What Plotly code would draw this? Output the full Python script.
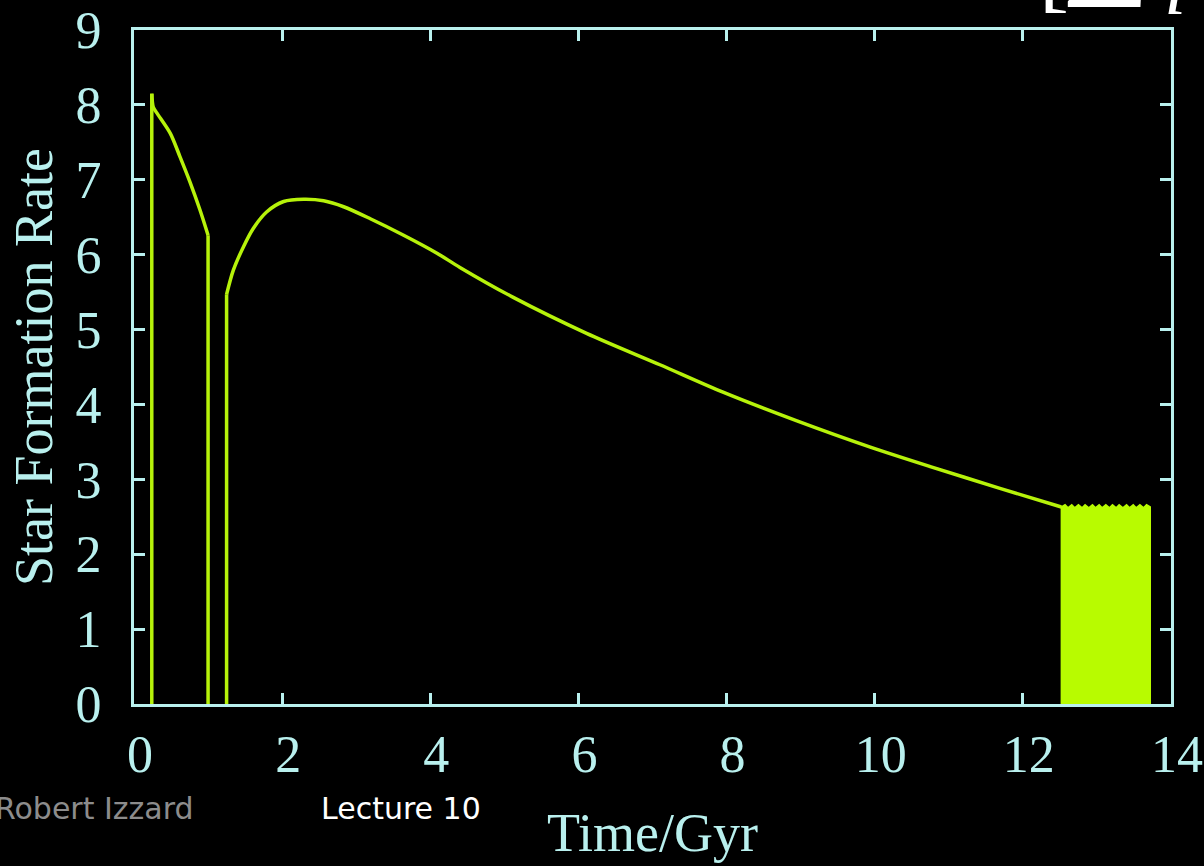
import plotly.graph_objects as go

# Star formation history (time in Gyr, rate in solar masses per year)
# Early episode, ended by a sudden quench
early_t = [0.24, 0.26, 0.31, 0.49, 0.62, 0.76, 0.89, 1.00]
early_sfr = [8.15, 7.97, 7.89, 7.62, 7.31, 6.96, 6.60, 6.26]

# Main episode after re-ignition
main_t = [1.25, 1.34, 1.48, 1.61, 1.79, 2.02, 2.29, 2.56, 2.83, 3.19,
          3.64, 4.09, 4.40, 5.12, 6.11, 7.10, 7.96, 8.95, 9.94, 10.75,
          11.69, 12.52]
main_sfr = [5.47, 5.79, 6.11, 6.35, 6.57, 6.71, 6.74, 6.72, 6.64, 6.48,
            6.26, 6.02, 5.83, 5.43, 4.95, 4.53, 4.16, 3.78, 3.43, 3.17,
            2.88, 2.63]

# Late rapidly oscillating phase: upper envelope of the oscillation
burst_t = [12.52, 12.52, 12.57, 12.61, 12.66, 12.70, 12.75, 12.80, 12.84, 12.89,
           12.94, 12.98, 13.03, 13.07, 13.12, 13.17, 13.21, 13.26, 13.30, 13.35,
           13.40, 13.44, 13.49, 13.53, 13.58, 13.63, 13.67, 13.72, 13.72]
burst_sfr = [0.0, 2.63, 2.66, 2.62, 2.66, 2.62, 2.66, 2.62, 2.66, 2.62,
             2.66, 2.62, 2.66, 2.62, 2.66, 2.62, 2.66, 2.62, 2.66, 2.62,
             2.66, 2.62, 2.66, 2.62, 2.66, 2.62, 2.66, 2.63, 0.0]

x_ticks = [0, 2, 4, 6, 8, 10, 12, 14]
y_ticks = [0, 1, 2, 3, 4, 5, 6, 7, 8, 9]

LINE = "#b6f20a"
FILL = "#b8fb00"
AXIS = "#b9f0ee"
SERIF = "Liberation Serif, Times New Roman, serif"
LW = 3.5

fig = go.Figure()


def add_curve(t, v):
    # smooth episode curve
    fig.add_trace(go.Scatter(x=t, y=v, mode="lines",
                             line=dict(color=LINE, width=LW, shape="spline", smoothing=0.8),
                             hoverinfo="skip", showlegend=False))


def add_jump(t, v):
    # instantaneous switch-on / switch-off of star formation
    fig.add_trace(go.Scatter(x=[t, t], y=[0, v], mode="lines",
                             line=dict(color=LINE, width=LW),
                             hoverinfo="skip", showlegend=False))


add_curve(early_t, early_sfr)
add_jump(early_t[0], early_sfr[0])
add_jump(early_t[-1], early_sfr[-1])
add_curve(main_t, main_sfr)
add_jump(main_t[0], main_sfr[0])

fig.add_trace(go.Scatter(x=burst_t, y=burst_sfr, mode="lines", fill="toself",
                         fillcolor=FILL, line=dict(color=FILL, width=1.5),
                         hoverinfo="skip", showlegend=False))

axis_common = dict(
    showline=True, linecolor=AXIS, linewidth=3, mirror="ticks",
    ticks="inside", ticklen=11, tickwidth=2.5, tickcolor=AXIS,
    showgrid=False, zeroline=False,
    tickfont=dict(family=SERIF, size=52, color=AXIS),
)

fig.update_layout(
    width=1204, height=866,
    paper_bgcolor="black", plot_bgcolor="black",
    margin=dict(l=134, r=33, t=30, b=162, autoexpand=False),
    xaxis=dict(range=[0, 14], tickvals=x_ticks, ticktext=[str(v) for v in x_ticks],
               ticklabelstandoff=3, ticklabelshift=6,
               title=dict(text="Time/Gyr", font=dict(family=SERIF, size=54, color=AXIS),
                          standoff=31),
               **axis_common),
    yaxis=dict(range=[0, 9], tickvals=y_ticks, ticktext=[str(v) for v in y_ticks],
               ticklabelstandoff=19,
               title=dict(text="Star Formation Rate",
                          font=dict(family=SERIF, size=54, color=AXIS), standoff=6),
               **axis_common),
    annotations=[
        dict(text="Robert Izzard", x=-0.136, y=-0.155, xref="paper", yref="paper",
             xanchor="left", yanchor="middle", showarrow=False,
             font=dict(family="DejaVu Sans", size=30, color="#8c8c8c")),
        dict(text="Lecture 10", x=0.1785, y=-0.155, xref="paper", yref="paper",
             xanchor="left", yanchor="middle", showarrow=False,
             font=dict(family="DejaVu Sans", size=30, color="white")),
        dict(text="[", x=0.871, y=1.012, xref="paper", yref="paper",
             xanchor="left", yanchor="bottom", showarrow=False,
             font=dict(family=SERIF, size=90, color="white")),
        dict(text="\u03a3", x=0.893, y=0.983, xref="paper", yref="paper",
             xanchor="left", yanchor="bottom", showarrow=False,
             font=dict(family=SERIF, size=150, color="white")),
        dict(text="<i>i</i>", x=0.991, y=0.996, xref="paper", yref="paper",
             xanchor="left", yanchor="bottom", showarrow=False,
             font=dict(family=SERIF, size=80, color="white")),
    ],
)

fig.write_html("out.html")
